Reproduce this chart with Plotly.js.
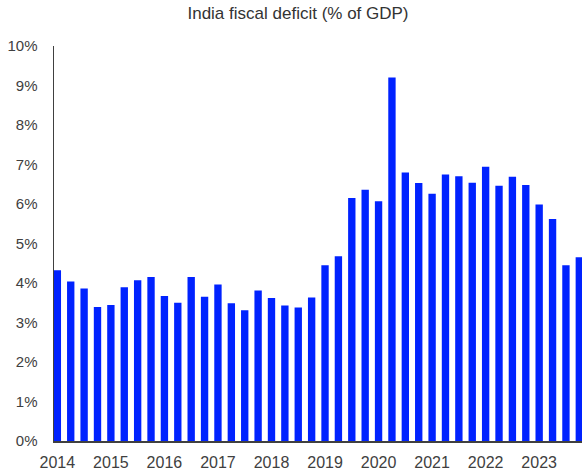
<!DOCTYPE html>
<html>
<head>
<meta charset="utf-8">
<script src="https://cdn.plot.ly/plotly-3.0.1.min.js"></script>
<style>html,body{margin:0;padding:0;overflow:hidden;background:#fff;}</style>
</head>
<body>
<div id="chart" style="width:582px;height:470px;"></div>
<script>
const years = ["2014","2015","2016","2017","2018","2019","2020","2021","2022","2023"];
const quarters = ["Q1","Q2","Q3","Q4"];
const categories = [];
years.forEach(y => quarters.forEach(q => categories.push(y + " " + q)));
const deficit = [
  4.32, 4.04, 3.86, 3.39,
  3.44, 3.89, 4.07, 4.15,
  3.67, 3.50, 4.15, 3.65,
  3.96, 3.49, 3.31, 3.81,
  3.62, 3.43, 3.38, 3.63,
  4.45, 4.68, 6.15, 6.36,
  6.07, 9.20, 6.80, 6.53,
  6.26, 6.75, 6.70, 6.54,
  6.94, 6.46, 6.69, 6.48,
  5.99, 5.62, 4.45, 4.65
];
const tickVals = years.map(y => y + " Q1");
const tickText = years;
const yTickVals = [0,1,2,3,4,5,6,7,8,9,10];
const yTickText = yTickVals.map(v => v + "%");

const trace = {
  type: "bar",
  x: categories,
  y: deficit,
  width: 0.55,
  marker: {color: "#0022ff", line: {width: 0}},
  hoverinfo: "x+y"
};
const layout = {
  width: 582, height: 470,
  margin: {l: 54, r: 0, t: 46, b: 29, pad: 0},
  paper_bgcolor: "#fff", plot_bgcolor: "#fff",
  font: {family: "Liberation Sans, Arial, sans-serif", size: 15, color: "#404040"},
  title: {text: "India fiscal deficit (% of GDP)", font: {size: 17, color: "#333"},
          x: 298/582, xref: "container", xanchor: "center",
          y: 1 - 13/470, yref: "container", yanchor: "middle"},
  showlegend: false,
  xaxis: {
    type: "category",
    categoryorder: "array", categoryarray: categories,
    range: [-0.25, 39.2],
    tickmode: "array", tickvals: tickVals, ticktext: tickText,
    showgrid: false, zeroline: false,
    showline: true, linecolor: "#404040", linewidth: 1.5,
    ticks: "", ticklabelstandoff: 6,
    tickfont: {size: 16, color: "#404040"}
  },
  yaxis: {
    range: [0, 10],
    tickmode: "array", tickvals: yTickVals, ticktext: yTickText,
    showgrid: false, zeroline: false,
    showline: true, linecolor: "#404040", linewidth: 1.5,
    ticks: "", ticklabelstandoff: 12,
    tickfont: {size: 15, color: "#404040"}
  }
};
Plotly.newPlot("chart", [trace], layout, {displayModeBar: false, staticPlot: true});
</script>
</body>
</html>
